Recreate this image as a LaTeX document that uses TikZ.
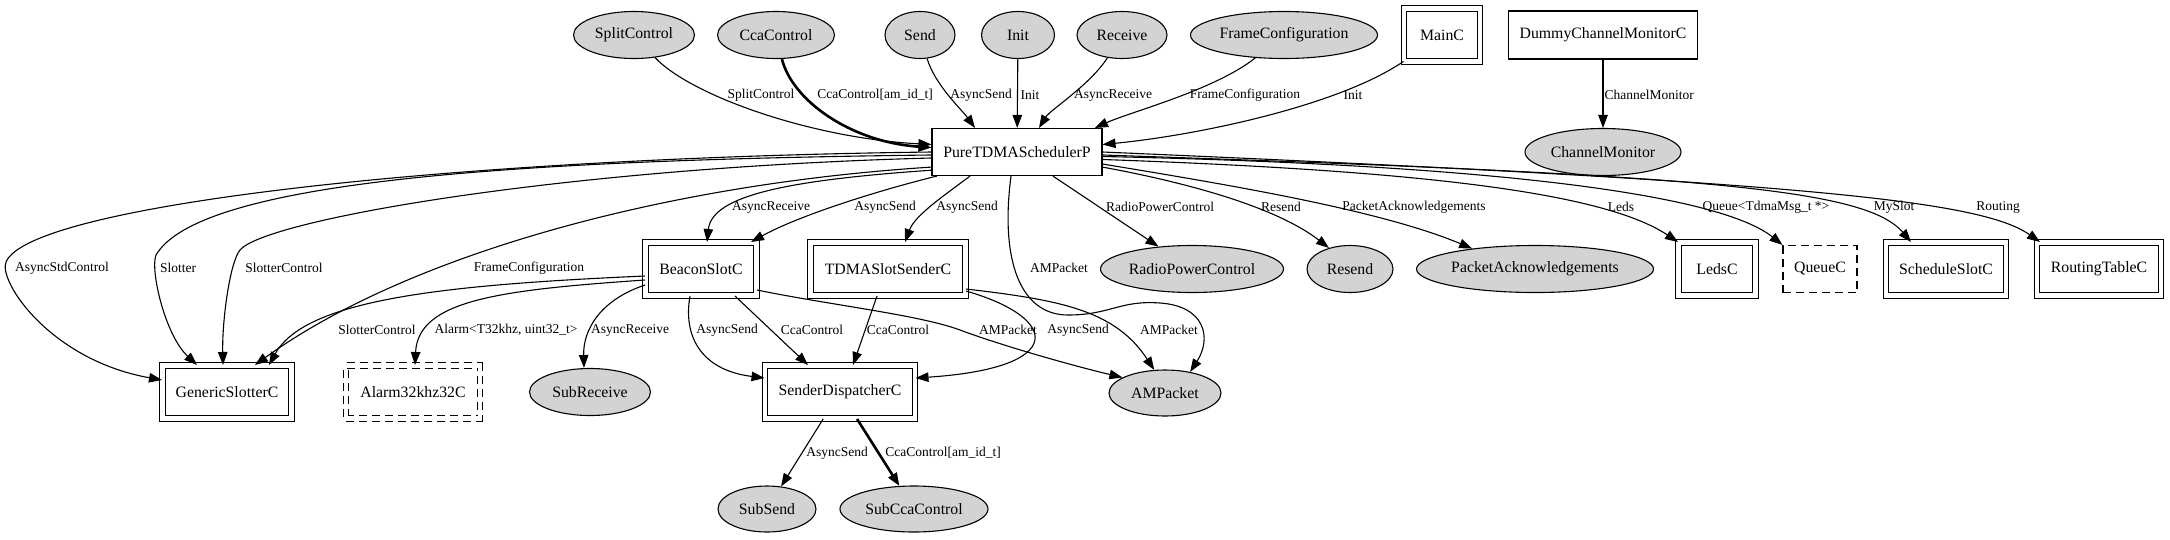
\documentclass[tikz,border=0pt]{standalone}
\usepackage{fontspec}
\setmainfont{Liberation Serif}
\usetikzlibrary{shapes.geometric,arrows.meta}
\definecolor{ifgray}{HTML}{D3D3D3}

\begin{document}
\begin{tikzpicture}[x=1pt,y=-1pt,
    every node/.style={font=\fontsize{15.8}{18}\selectfont, inner sep=0pt},
    iface/.style={ellipse, draw, fill=ifgray, line width=1.1pt, minimum height=47pt},
    comp/.style={rectangle, draw, line width=1.1pt, minimum height=47pt},
    dblcomp/.style={rectangle, draw, double, double distance=4.4pt, line width=1pt, minimum height=53pt},
    gencomp/.style={dblcomp, dash pattern=on 8pt off 5pt},
    wire/.style={line width=1.1pt, -{Triangle[length=13pt,width=9.5pt]}},
    boldwire/.style={wire, line width=2.6pt},
    lbl/.style={font=\fontsize{13.5}{16}\selectfont}]
        \useasboundingbox (0,0) rectangle (2170,539);

        % top row
        \node[iface, minimum width=121pt] (split) at (634,35) {SplitControl};
        \node[iface, minimum width=117pt] (cca) at (776,35) {CcaControl};
        \node[iface, minimum width=70pt] (send) at (920,35) {Send};
        \node[iface, minimum width=73pt] (init) at (1018,35) {Init};
        \node[iface, minimum width=90pt] (recv) at (1122,35) {Receive};
        \node[iface, minimum width=187pt] (frame) at (1284,35) {FrameConfiguration};
        \node[dblcomp, minimum width=76pt] (mainC) at (1442,35) {MainC};
        \node[comp, minimum width=189pt, minimum height=48pt] (dummy) at (1603,35) {DummyChannelMonitorC};
        \node[iface, minimum width=156pt] (chanmon) at (1603,152) {ChannelMonitor};
        \node[comp, minimum width=170pt] (pure) at (1017,152) {PureTDMASchedulerP};

        % middle row
        \node[dblcomp, minimum width=111pt] (beacon) at (701,269) {BeaconSlotC};
        \node[dblcomp, minimum width=155pt] (tdma) at (888,269) {TDMASlotSenderC};
        \node[iface, minimum width=183pt] (radio) at (1192,269) {RadioPowerControl};
        \node[iface, minimum width=86pt] (resend) at (1350,269) {Resend};
        \node[iface, minimum width=235pt] (pack) at (1535,269) {PacketAcknowledgements};
        \node[dblcomp, minimum width=77pt] (leds) at (1717,269) {LedsC};
        \node[comp, dash pattern=on 8pt off 5pt, minimum width=74pt] (queue) at (1820,269) {QueueC};
        \node[dblcomp, minimum width=120pt] (sched) at (1946,269) {ScheduleSlotC};
        \node[dblcomp, minimum width=124pt] (routing) at (2099,269) {RoutingTableC};

        % lower rows
        \node[dblcomp, minimum width=129pt] (generic) at (227,392) {GenericSlotterC};
        \node[gencomp, minimum width=134pt] (alarm) at (413,392) {Alarm32khz32C};
        \node[iface, minimum width=121pt] (subrecv) at (590,392) {SubReceive};
        \node[dblcomp, minimum width=150pt] (sender) at (840,392) {SenderDispatcherC};
        \node[iface, minimum width=112pt, minimum height=46pt] (amp) at (1165,393) {AMPacket};
        \node[iface, minimum width=98pt, minimum height=46pt] (subsend) at (767,509) {SubSend};
        \node[iface, minimum width=148pt, minimum height=46pt] (subcca) at (914,509) {SubCcaControl};

        % into the scheduler
        \draw[wire] (split) .. controls (690,95) and (810,138) .. (pure.175) node[lbl, at={(761,95)}] {SplitControl};
        \draw[boldwire] (cca) .. controls (792,100) and (850,142) .. (pure.177) node[lbl, at={(875,95)}] {CcaControl[am\_id\_t]};
        \draw[wire] (send) .. controls (935,85) and (962,110) .. ([xshift=-42pt]pure.north) node[lbl, at={(981,95)}] {AsyncSend};
        \draw[wire] (init) -- (pure) node[lbl, anchor=west, at={(1020,95)}] {Init};
        \draw[wire] (recv) .. controls (1090,85) and (1050,110) .. ([xshift=22pt]pure.north) node[lbl, at={(1113,95)}] {AsyncReceive};
        \draw[wire] (frame) .. controls (1215,90) and (1130,112) .. ([xshift=78pt]pure.north) node[lbl, at={(1245,95)}] {FrameConfiguration};
        \draw[wire] (mainC) .. controls (1340,105) and (1200,135) .. (pure.5) node[lbl, at={(1353,95)}] {Init};
        \draw[wire] (dummy) -- (chanmon) node[lbl, anchor=west, at={(1604,95)}] {ChannelMonitor};

        % out of the scheduler
        \draw[wire] (pure.192) .. controls (790,180) and (712,195) .. ([xshift=6pt]beacon.north) node[lbl, at={(771,207)}] {AsyncReceive};
        \draw[wire] ([xshift=-80pt]pure.south) .. controls (880,190) and (800,215) .. ([xshift=50pt]beacon.north) node[lbl, at={(885,207)}] {AsyncSend};
        \draw[wire] ([xshift=-47pt]pure.south) .. controls (945,195) and (915,215) .. ([xshift=17pt]tdma.north) node[lbl, at={(967,207)}] {AsyncSend};
        \draw[wire] ([xshift=-6pt]pure.south) .. controls (1000,260) and (1020,315) .. (1068,315) .. controls (1110,315) and (1120,300) .. (1160,303) .. controls (1205,306) and (1212,338) .. (amp.40) node[lbl, at={(1059,268)}] {AMPacket};
        \draw[wire] (pure) -- (radio) node[lbl, at={(1160,207)}] {RadioPowerControl};
        \draw[wire] (pure.350) .. controls (1200,185) and (1280,210) .. (resend.135) node[lbl, at={(1281,207)}] {Resend};
        \draw[wire] (pure.352) .. controls (1230,185) and (1380,210) .. (pack.162) node[lbl, at={(1414,207)}] {PacketAcknowledgements};
        \draw[wire] (pure.355) .. controls (1400,170) and (1600,190) .. (leds.north west) node[lbl, at={(1621,207)}] {Leds};
        \draw[wire] (pure.357) .. controls (1500,165) and (1720,195) .. (queue.north west) node[lbl, at={(1766,207)}] {Queue<TdmaMsg\_t *>};
        \draw[wire] (pure.358) .. controls (1700,175) and (1865,188) .. ([xshift=-35pt]sched.north) node[lbl, at={(1894,207)}] {MySlot};
        \draw[wire] (pure.0) .. controls (1800,182) and (1980,200) .. ([xshift=-59pt]routing.north) node[lbl, at={(1998,207)}] {Routing};

        % to the slotter
        \draw[wire] (pure.180) .. controls (450,158) and (30,205) .. (6,262) .. controls (-2,281) and (50,360) .. ([yshift=12pt]generic.west) node[lbl, at={(62,268)}] {AsyncStdControl};
        \draw[wire] (pure.182) .. controls (520,160) and (200,180) .. (156,255) .. controls (150,270) and (165,335) .. ([xshift=-30pt]generic.north) node[lbl, at={(178,268)}] {Slotter};
        \draw[wire] (pure.184) .. controls (560,168) and (265,220) .. (240,250) .. controls (230,262) and (222,320) .. ([xshift=-4pt]generic.north) node[lbl, at={(284,268)}] {SlotterControl};
        \draw[wire] (pure.190) .. controls (650,185) and (400,260) .. ([xshift=28pt]generic.north) node[lbl, at={(529,268)}] {FrameConfiguration};

        % from the beacon slot
        \draw[wire] ([yshift=-7pt]beacon.west) .. controls (440,285) and (305,300) .. ([xshift=42pt]generic.north) node[lbl, at={(377,330)}] {SlotterControl};
        \draw[wire] ([yshift=-11pt]beacon.west) .. controls (500,290) and (418,300) .. ([xshift=2pt]alarm.north) node[lbl, at={(506,330)}] {Alarm<T32khz, uint32\_t>};
        \draw[wire] ([yshift=-16pt]beacon.west) .. controls (600,300) and (583,330) .. ([xshift=-6pt]subrecv.north) node[lbl, at={(630,330)}] {AsyncReceive};
        \draw[wire] ([xshift=-11pt]beacon.south) .. controls (683,335) and (700,370) .. ([yshift=14pt]sender.west) node[lbl, at={(727,330)}] {AsyncSend};
        \draw[wire] ([xshift=34pt]beacon.south) -- ([xshift=-32pt]sender.north) node[lbl, at={(812,330)}] {CcaControl};
        \draw[wire] ([yshift=-21pt]beacon.east) .. controls (830,305) and (920,315) .. (960,330) .. controls (1000,345) and (1070,365) .. (amp.160) node[lbl, at={(1008,330)}] {AMPacket};

        % from the slot sender
        \draw[wire] ([xshift=-11pt]tdma.south) -- ([xshift=13pt]sender.north) node[lbl, at={(898,330)}] {CcaControl};
        \draw[wire] ([yshift=-22pt]tdma.east) .. controls (1060,318) and (1068,368) .. ([yshift=14pt]sender.east) node[lbl, at={(1078,330)}] {AsyncSend};
        \draw[wire] ([yshift=-20pt]tdma.east) .. controls (1060,300) and (1115,310) .. (amp.115) node[lbl, at={(1169,330)}] {AMPacket};

        % dispatcher
        \draw[wire] (sender) -- (subsend) node[lbl, at={(837,453)}] {AsyncSend};
        \draw[boldwire] (sender) -- (subcca) node[lbl, at={(943,453)}] {CcaControl[am\_id\_t]};
    \end{tikzpicture}
\end{document}
